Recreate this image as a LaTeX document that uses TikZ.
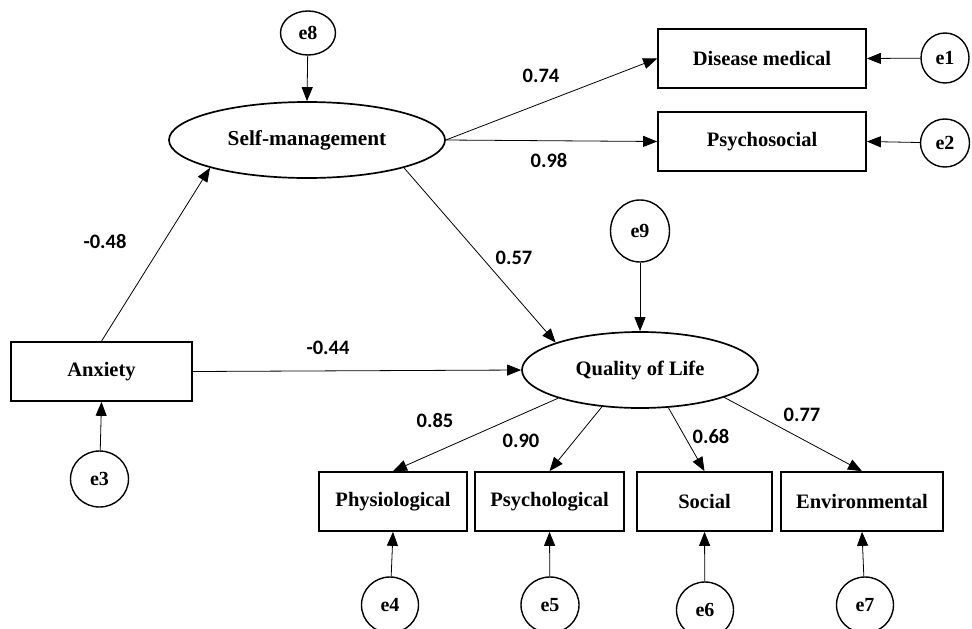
\documentclass[tikz,border=0pt]{standalone}
\usepackage{fontspec}
\setmainfont{Liberation Serif}
\newfontfamily\numfont{Carlito}
\usetikzlibrary{arrows.meta,shapes.geometric}
\begin{document}
\begin{tikzpicture}[x=1pt,y=-1pt,
 box/.style={draw,line width=1.7pt,minimum height=59pt,inner sep=0pt,font=\fontsize{20.5}{24}\selectfont\bfseries},
 lat/.style={draw,ellipse,line width=1.7pt,minimum height=76pt,inner sep=0pt,font=\fontsize{20.5}{24}\selectfont\bfseries},
 err/.style={draw,ellipse,line width=1.4pt,inner sep=0pt,minimum width=57pt,minimum height=56pt,font=\fontsize{20}{24}\selectfont\bfseries},
 arr/.style={-{Triangle[length=14pt,width=11pt]},line width=0.8pt},
 coef/.style={font=\numfont\fontsize{20.5}{24}\selectfont\bfseries}]
\useasboundingbox (0,0) rectangle (972,629);
\fill[white] (0,0) rectangle (972,629);
% latent
\node[lat,minimum width=276pt,font=\fontsize{21.3}{24}\selectfont\bfseries] (sm) at (307,140) {Self-management};
\node[lat,minimum width=236pt] (qol) at (640,370) {Quality of Life};
% observed
\node[box,minimum width=208pt] (dm) at (762,58.5) {Disease medical};
\node[box,minimum width=208pt] (ps) at (762,141.5) {Psychosocial};
\node[box,minimum width=181pt] (anx) at (101.5,371.5) {Anxiety};
\node[box,minimum width=148pt] (phy) at (393,501.5) {Physiological};
\node[box,minimum width=149pt] (psy) at (549.5,501.5) {Psychological};
\node[box,minimum width=135pt] (soc) at (704.5,501.5) {Social};
\node[box,minimum width=162pt] (env) at (862,501.5) {Environmental};
% errors
\node[err,minimum width=55pt,minimum height=44pt] (e8) at (308,33) {e8};
\node[err,minimum width=48pt,minimum height=50pt] (e1) at (945,58) {e1};
\node[err,minimum width=49pt,minimum height=48pt] (e2) at (945,143) {e2};
\node[err,minimum width=59pt,minimum height=62pt] (e9) at (640,231) {e9};
\node[err,minimum width=58pt] (e3) at (99.5,479) {e3};
\node[err] (e4) at (390,605) {e4};
\node[err,minimum width=58pt] (e5) at (550,605) {e5};
\node[err] (e6) at (705,610) {e6};
\node[err] (e7) at (865,605) {e7};
% paths
\draw[arr] (e8) -- (sm.north);
\draw[arr] (e9) -- (qol.north);
\draw[arr] (e1) -- (dm.east);
\draw[arr] (e2) -- (ps.east);
\draw[arr] (e3) -- (anx.south);
\draw[arr] (e4) -- (phy.south);
\draw[arr] (e5) -- (psy.south);
\draw[arr] (e6) -- (soc.south);
\draw[arr] (e7) -- (env.south);
\draw[arr] (anx.north) -- (sm.196);
\draw[arr] (anx.east) -- (qol.west);
\draw[arr] (sm.-16) -- (qol.162);
\draw[arr] (sm.east) -- (dm.west);
\draw[arr] (sm.east) -- (ps.west);
\draw[arr] (qol.199) -- (phy.north);
\draw[arr] (qol.224) -- (psy.north);
\draw[arr] (qol.307) -- (soc.north);
\draw[arr] (qol.342) -- (env.north);
% coefficients
\node[coef] (c1) at (541,76) {0.74};
\node[coef] (c2) at (549,160) {0.98};
\node[coef] (c3) at (105,241) {-0.48};
\node[coef] (c4) at (514,258) {0.57};
\node[coef] (c5) at (328,348) {-0.44};
\node[coef] (c6) at (435,420) {0.85};
\node[coef] (c7) at (521,441) {0.90};
\node[coef] (c8) at (711,436) {0.68};
\node[coef] (c9) at (802,415) {0.77};
\end{tikzpicture}
\end{document}
